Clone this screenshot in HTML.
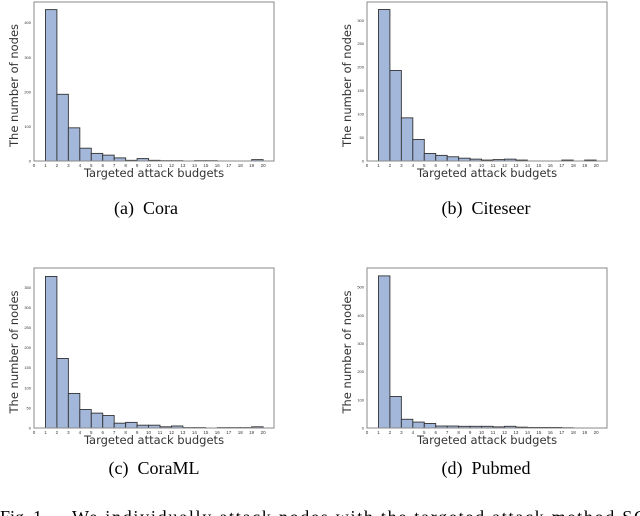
<!DOCTYPE html>
<html><head><meta charset="utf-8"><style>
html,body{margin:0;padding:0;background:#fff;width:640px;height:516px;overflow:hidden;position:relative}
svg{position:absolute;left:0;top:0}
text{white-space:pre}
</style></head><body>
<svg id="fig" width="640" height="516" xmlns="http://www.w3.org/2000/svg"></svg>
<script>
const budgets = [1,2,3,4,5,6,7,8,9,10,11,12,13,14,15,16,17,18,19];
const coraCounts = [438,193,96,37,22,17,9,2,7,2,1,1,0,1,1,0,0,0,4];
const citeseerCounts = [323,193,92,46,16,12,9,6,4,2,3,4,2,0,0,0,2,0,2];
const coramlCounts = [377,173,86,46,37,31,12,14,7,7,3,5,1,1,0,1,1,1,3];
const pubmedCounts = [540,112,31,21,16,7,7,6,6,6,4,6,3,2,2,2,1,0,0];
const xTicks = [0,1,2,3,4,5,6,7,8,9,10,11,12,13,14,15,16,17,18,19,20];
const coraYTicks = [0,100,200,300,400];
const citeseerYTicks = [0,50,100,150,200,250,300];
const coramlYTicks = [0,50,100,150,200,250,300,350];
const pubmedYTicks = [0,100,200,300,400,500];
const captions = ["(a)  Cora","(b)  Citeseer","(c)  CoraML","(d)  Pubmed"];

const NS="http://www.w3.org/2000/svg";
const svg=document.getElementById('fig');
function mk(tag,attrs,parent){const e=document.createElementNS(NS,tag);for(const k in attrs)e.setAttribute(k,attrs[k]);(parent||svg).appendChild(e);return e;}

const panels=[
 {name:'cora',counts:coraCounts,yt:coraYTicks,ymax:460,x0:34,x1:274,y0:2,y1:161,cap:captions[0],cx:146,cy:214},
 {name:'citeseer',counts:citeseerCounts,yt:citeseerYTicks,ymax:339,x0:367,x1:607,y0:2,y1:161,cap:captions[1],cx:486,cy:214},
 {name:'coraml',counts:coramlCounts,yt:coramlYTicks,ymax:398,x0:34,x1:274,y0:268,y1:428,cap:captions[2],cx:154,cy:474},
 {name:'pubmed',counts:pubmedCounts,yt:pubmedYTicks,ymax:568,x0:367,x1:607,y0:268,y1:428,cap:captions[3],cx:486,cy:474}
];
panels.forEach(p=>{
  const g=mk('g',{});
  
  
  const xs=v=>p.x0+(v-0)/(20.95)*(p.x1-p.x0);
  const ys=v=>p.y1-v/p.ymax*(p.y1-p.y0);
  budgets.forEach((b,i)=>{
    const r=mk('rect',{x:xs(b),y:ys(p.counts[i]),width:xs(b+1)-xs(b),height:p.y1-ys(p.counts[i]),fill:'#a3b7da',stroke:'#333',"stroke-width":0.9},g);
    
    
  });
  const fr=mk('rect',{x:p.x0,y:p.y0,width:p.x1-p.x0,height:p.y1-p.y0,fill:'none',stroke:'#888',"stroke-width":1},g);
  
  
  xTicks.forEach(t=>{
    const tx=mk('text',{x:xs(t),y:p.y1+6,"font-size":4.5,"text-anchor":'middle',fill:'#333',"font-family":'Liberation Sans, sans-serif'},g);
    tx.textContent=t;
    
    
  });
  p.yt.forEach(t=>{
    const ty=mk('text',{x:p.x0-3,y:ys(t)+1.5,"font-size":4,"text-anchor":'end',fill:'#333',"font-family":'Liberation Sans, sans-serif'},g);
    ty.textContent=t;
    
    
  });
  const xl=mk('text',{x:(p.x0+p.x1)/2,y:p.y1+16,"font-size":11.5,"text-anchor":'middle',fill:'#333',"font-family":'DejaVu Sans, sans-serif'},g);
  xl.textContent='Targeted attack budgets';
  
  
  const ym=(p.y0+p.y1)/2+4, yx=p.x0-16;
  const yl=mk('text',{x:yx,y:ym,"font-size":11.5,"text-anchor":'middle',fill:'#333',"font-family":'DejaVu Sans, sans-serif',transform:`rotate(-90 ${yx} ${ym})`},g);
  yl.textContent='The number of nodes';
  
  
  const cp=mk('text',{x:p.cx,y:p.cy,"font-size":18,"text-anchor":'middle',fill:'#000',"font-family":'Liberation Serif, serif'},g);
  cp.textContent=p.cap;
  
  
});
const fl=mk('text',{x:0,y:523,"font-size":18,fill:'#000',"font-family":'Liberation Serif, serif'});
fl.textContent='Fig. 1.';


const fc=mk('text',{x:72,y:523,"font-size":18,fill:'#000',"font-family":'Liberation Serif, serif',textLength:575,lengthAdjust:'spacing'});
fc.textContent='We individually attack nodes with the targeted attack method SG';


</script>
</body></html>
